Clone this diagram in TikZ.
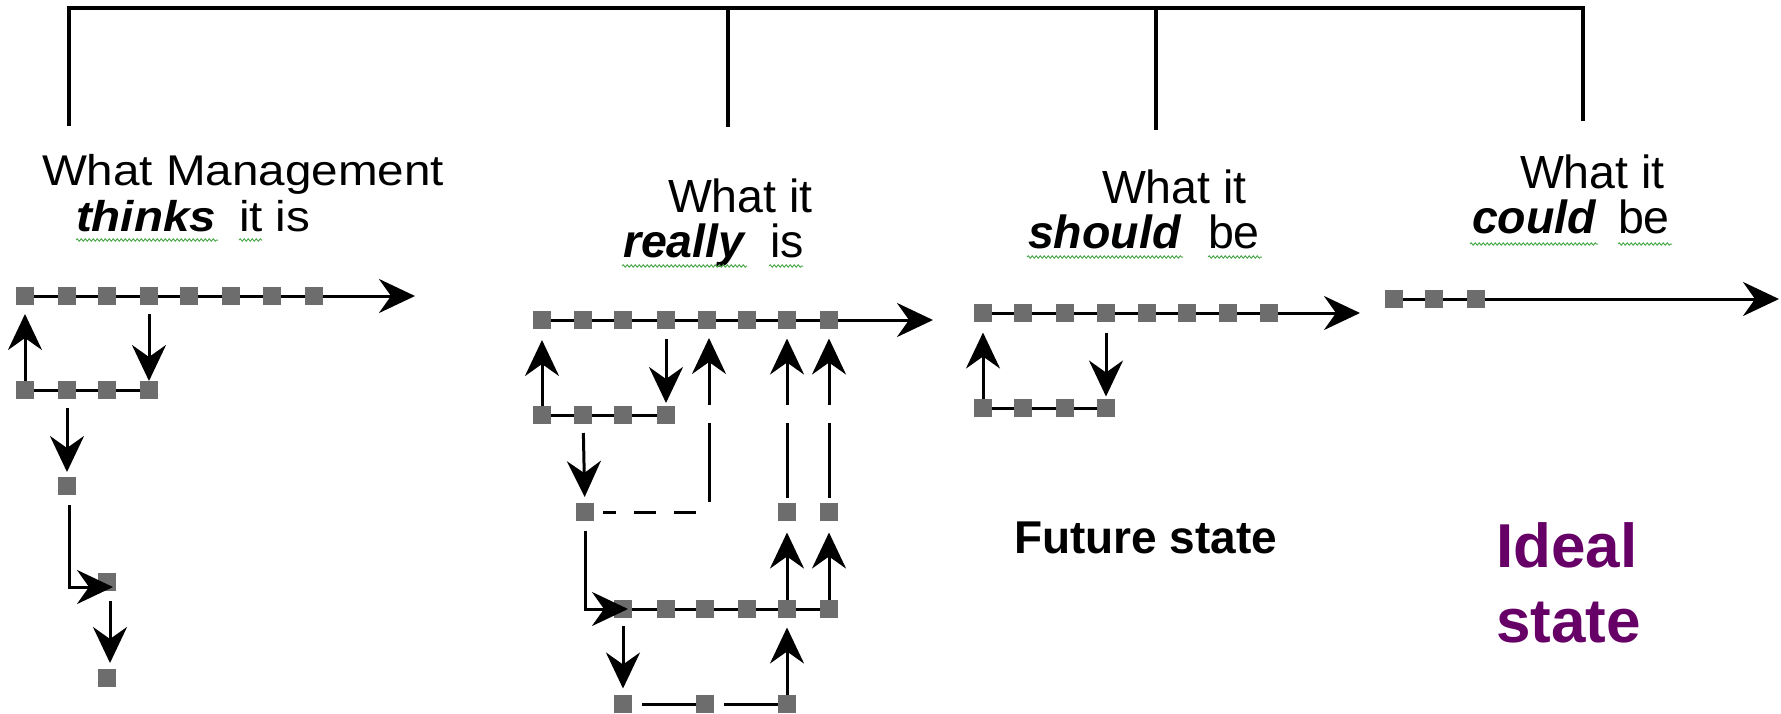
\documentclass[tikz,border=0pt]{standalone}
\usepackage{fontspec}
\setmainfont{Liberation Sans}
\usepackage{graphicx}
\usetikzlibrary{arrows.meta,decorations.pathmorphing}
\definecolor{sqgray}{RGB}{109,109,109}
\definecolor{idealpurple}{RGB}{102,0,102}
\definecolor{wavygreen}{RGB}{80,170,80}
\begin{document}
\begin{tikzpicture}[x=1pt,y=-1pt,
  sq/.style={rectangle,fill=sqgray,minimum size=18pt,inner sep=0pt,outer sep=0pt},
  flow/.style={line width=3pt},
  arr/.style={line width=3pt,-{Stealth[length=36pt,width=34pt,inset=12pt]}},
  bracketline/.style={line width=4pt},
  lbl/.style={inner sep=0pt,outer sep=0pt,anchor=base west},
  titlefont/.style={font=\fontsize{46.5}{50}\selectfont},
  wave/.style={draw=wavygreen,line width=1pt,decorate,decoration={snake,amplitude=1.2pt,segment length=4pt}},
]
\useasboundingbox (0,0) rectangle (1781,713);

% ---------- top bracket ----------
\coordinate (b1) at (69,126);
\coordinate (b1top) at (69,8);
\coordinate (b2) at (728,127);
\coordinate (b2top) at (728,8);
\coordinate (b3) at (1156,130);
\coordinate (b3top) at (1156,8);
\coordinate (b4) at (1583,121);
\coordinate (b4top) at (1583,8);
\draw[bracketline,line join=miter] (b1) -- (b1top) -- (b4top) -- (b4);
\draw[bracketline] (b2top) -- (b2);
\draw[bracketline] (b3top) -- (b3);

% ---------- titles ----------
\node[lbl,font=\fontsize{43}{47}\selectfont] (t1a) at (42,185) {\scalebox{1.107}[1]{What Management}};
\node[lbl,font=\fontsize{43}{47}\selectfont\bfseries\itshape] (t1b) at (76,231) {\scalebox{1.107}[1]{thinks}};
\node[lbl,font=\fontsize{43}{47}\selectfont] (t1c) at (239,231) {\scalebox{1.107}[1]{it is}};
\draw[wave] (76,240) -- (218,240);
\draw[wave] (239,240) -- (262,240);

\node[lbl,titlefont] (t2a) at (668,212) {What it};
\node[lbl,font=\fontsize{46.5}{50}\selectfont\bfseries\itshape] (t2b) at (623,257) {really};
\node[lbl,titlefont] (t2c) at (770,257) {is};
\draw[wave] (622,266) -- (747,266);
\draw[wave] (769,266) -- (803,266);

\node[lbl,titlefont] (t3a) at (1102,203) {What it};
\node[lbl,font=\fontsize{46.5}{50}\selectfont\bfseries\itshape] (t3b) at (1028,248) {should};
\node[lbl,titlefont] (t3c) at (1208,248) {be};
\draw[wave] (1027,257) -- (1183,257);
\draw[wave] (1208,257) -- (1262,257);

\node[lbl,titlefont] (t4a) at (1520,188) {What it};
\node[lbl,font=\fontsize{46.5}{50}\selectfont\bfseries\itshape] (t4b) at (1472,233) {could};
\node[lbl,titlefont] (t4c) at (1618,233) {be};
\draw[wave] (1470,244) -- (1598,244);
\draw[wave] (1618,244) -- (1672,244);

\node[lbl,font=\fontsize{46}{50}\selectfont\bfseries] (fut) at (1014,553) {Future state};
\node[lbl,font=\fontsize{62}{66}\selectfont\bfseries,text=idealpurple] (id1) at (1496,567) {Ideal};
\node[lbl,font=\fontsize{62}{66}\selectfont\bfseries,text=idealpurple] (id2) at (1496,642) {state};

% ---------- group 1: thinks ----------
\foreach \i/\x in {1/25,2/67,3/107,4/149,5/189,6/231,7/272,8/314} \node[sq] (ga\i) at (\x,296) {};
\foreach \i/\x in {1/25,2/67,3/107,4/149} \node[sq] (gb\i) at (\x,390) {};
\node[sq] (gc) at (67,486) {};
\node[sq] (gd) at (107,582) {};
\node[sq] (ge) at (107,678) {};
\coordinate (gaend) at (415,296);
\draw[flow] (ga1) -- (ga2) -- (ga3) -- (ga4) -- (ga5) -- (ga6) -- (ga7) -- (ga8);
\draw[arr] (ga8) -- (gaend);
\draw[flow] (gb1) -- (gb2) -- (gb3) -- (gb4);
\draw[arr,shorten >=9pt] (gb1) -- (ga1);
\draw[arr,shorten <=9pt] (ga4) -- (gb4);
\draw[arr,shorten <=9pt,shorten >=5pt] (gb2) -- (gc);
\draw[arr,shorten <=10pt] ([xshift=2pt]gc.south) |- ([xshift=6pt,yshift=-5pt]gd.center);
\draw[arr,shorten <=10pt,shorten >=6pt] ([xshift=3pt]gd.south) -- ([xshift=3pt]ge.north);

% ---------- group 2: really ----------
\foreach \i/\x in {1/542,2/583,3/623,4/666,5/707,6/747,7/787,8/829} \node[sq] (ra\i) at (\x,320) {};
\foreach \i/\x in {1/542,2/583,3/623,4/666} \node[sq] (rb\i) at (\x,415) {};
\node[sq] (rc1) at (585,512) {};
\node[sq] (rc2) at (787,512) {};
\node[sq] (rc3) at (829,512) {};
\foreach \i/\x in {1/623,2/666,3/705,4/747,5/787,6/829} \node[sq] (rd\i) at (\x,609) {};
\foreach \i/\x in {1/623,2/705,3/787} \node[sq] (re\i) at (\x,704) {};
\coordinate (raend) at (933,320);
\draw[flow] (ra1) -- (ra2) -- (ra3) -- (ra4) -- (ra5) -- (ra6) -- (ra7) -- (ra8);
\draw[arr] (ra8) -- (raend);
\draw[flow] (rb1) -- (rb2) -- (rb3) -- (rb4);
\draw[arr,shorten >=11pt] (rb1) -- (ra1);
\draw[arr,shorten <=10pt,shorten >=3pt] (ra4) -- (rb4);
\draw[arr,shorten <=9pt,shorten >=6pt] (rb2) -- (rc1);
% dashed link from rc1 up to ra5
\coordinate (rdash) at (697,512);
\coordinate (rv5a) at (709,502);
\coordinate (rv5b) at (709,423);
\coordinate (rs5) at (709,405);
\coordinate (rt5) at (709,338);
\draw[flow,dash pattern=on 22pt off 18pt,dash phase=9pt,shorten <=9pt] (rc1) -- (rdash);
\draw[flow] (rv5a) -- (rv5b);
\draw[arr] (rs5) -- (rt5);
% lines and arrows above rc2, rc3
\coordinate (rs7) at (787,405);
\coordinate (rs8) at (829,405);
\coordinate (rl7) at (787,423);
\coordinate (rl8) at (829,423);
\draw[flow] ([yshift=5pt]rc2.north) -- (rl7);
\draw[flow] ([yshift=5pt]rc3.north) -- (rl8);
\draw[arr,shorten >=9.5pt] (rs7) -- (ra7);
\draw[arr,shorten >=9.5pt] (rs8) -- (ra8);
% row D
\draw[flow] (rd1) -- (rd2) -- (rd3) -- (rd4) -- (rd5) -- (rd6);
\draw[arr,shorten <=9.5pt] (rc1) |- ([xshift=5pt]rd1.center);
\draw[arr,shorten >=11.5pt] (rd5) -- (rc2);
\draw[arr,shorten >=11.5pt] (rd6) -- (rc3);
\draw[arr,shorten <=7.5pt,shorten >=6.5pt] (rd1) -- (re1);
% row E
\draw[flow,shorten <=10pt] (re1) -- (re2);
\draw[flow,shorten <=10pt] (re2) -- (re3);
\draw[arr,shorten >=9.5pt] (re3) -- (rd5);

% ---------- group 3: should ----------
\foreach \i/\x in {1/983,2/1023,3/1065,4/1106,5/1147,6/1187,7/1228,8/1269} \node[sq] (sa\i) at (\x,313) {};
\foreach \i/\x in {1/983,2/1023,3/1065,4/1106} \node[sq] (sb\i) at (\x,408) {};
\coordinate (saend) at (1360,313);
\draw[flow] (sa1) -- (sa2) -- (sa3) -- (sa4) -- (sa5) -- (sa6) -- (sa7) -- (sa8);
\draw[arr] (sa8) -- (saend);
\draw[flow] (sb1) -- (sb2) -- (sb3) -- (sb4);
\draw[arr,shorten >=10.5pt] (sb1) -- (sa1);
\draw[arr,shorten <=10.5pt,shorten >=2.5pt] (sa4) -- (sb4);

% ---------- group 4: could ----------
\foreach \i/\x in {1/1394,2/1434,3/1476} \node[sq] (ca\i) at (\x,299) {};
\coordinate (caend) at (1779,299);
\draw[flow] (ca1) -- (ca2) -- (ca3);
\draw[arr] (ca3) -- (caend);
\end{tikzpicture}
\end{document}
